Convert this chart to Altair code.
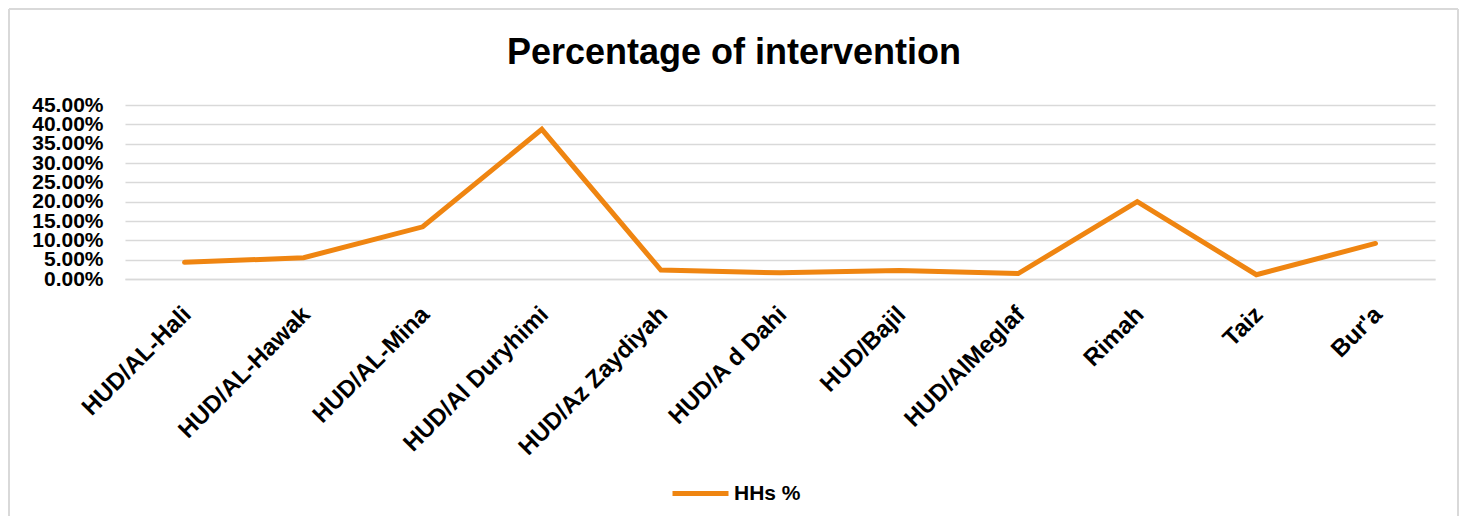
import altair as alt
import pandas as pd

categories = ["HUD/AL-Hali", "HUD/AL-Hawak", "HUD/AL-Mina", "HUD/Al Duryhimi",
              "HUD/Az Zaydiyah", "HUD/A d Dahi", "HUD/Bajil", "HUD/AlMeglaf",
              "Rimah", "Taiz", "Bur'a"]
values = [0.043, 0.055, 0.135, 0.387, 0.023, 0.016, 0.022, 0.014, 0.200, 0.011, 0.092]
series_name = "HHs %"
y_ticks = [0, 0.05, 0.10, 0.15, 0.20, 0.25, 0.30, 0.35, 0.40, 0.45]
title_text = "Percentage of intervention"

ORANGE = "#EF8511"
GRID = "#d9d9d9"
FONT = "Liberation Sans"

df = pd.DataFrame({"cat": categories, "val": values, "series": [series_name] * len(categories)})

line = alt.Chart(df).mark_line(strokeWidth=5, strokeCap="round", strokeJoin="miter").encode(
    x=alt.X("cat:N", sort=categories, title=None,
            scale=alt.Scale(type="point", padding=0.5),
            axis=alt.Axis(labelAngle=-45, labelFontSize=24, labelFontWeight="bold",
                          labelFont=FONT, labelColor="black", ticks=False,
                          domain=True, domainColor=GRID, domainWidth=1.5,
                          grid=False, labelPadding=23, labelOffset=-6, labelLimit=400,
                          labelOverlap=False)),
    y=alt.Y("val:Q", title=None,
            scale=alt.Scale(domain=[0, 0.45], nice=False),
            axis=alt.Axis(values=y_ticks, format=".2%", labelFontSize=21,
                          labelFontWeight="bold", labelFont=FONT, labelColor="black",
                          ticks=False, domain=False, grid=True, gridColor=GRID,
                          gridWidth=1.5, labelPadding=22, labelOverlap=False,
                          labelBound=False, labelFlush=False)),
    color=alt.Color("series:N", scale=alt.Scale(domain=[series_name], range=[ORANGE]),
                    legend=alt.Legend(title=None, orient="none", legendX=545, legendY=358,
                                      symbolType="stroke", symbolSize=3136,
                                      symbolStrokeWidth=5, labelFontSize=21,
                                      labelFontWeight="bold", labelFont=FONT,
                                      labelColor="black", labelOffset=3)),
)

single = pd.DataFrame({"t": [title_text]})
base = alt.Chart(single)
title = base.mark_text(fontSize=36, fontWeight="bold", font=FONT, color="black",
                       align="center", baseline="middle").encode(
    text="t:N", x=alt.value(609), y=alt.value(-52))
left = base.mark_rule(color=GRID, strokeWidth=2).encode(
    x=alt.value(-116), y=alt.value(-96), y2=alt.value(420))
top = base.mark_rule(color=GRID, strokeWidth=2).encode(
    x=alt.value(-116), x2=alt.value(1333), y=alt.value(-96))
right = base.mark_rule(color=GRID, strokeWidth=2).encode(
    x=alt.value(1333), y=alt.value(-96), y2=alt.value(420))

chart = alt.layer(line, title, left, top, right).properties(
    width=1310, height=174,
    autosize=alt.AutoSizeParams(type="none"),
    padding={"left": 117, "top": 97, "right": 25, "bottom": 237},
    background="white",
).configure_view(stroke=None)

chart.save("out.html", embed_options={"renderer": "svg", "actions": False})
